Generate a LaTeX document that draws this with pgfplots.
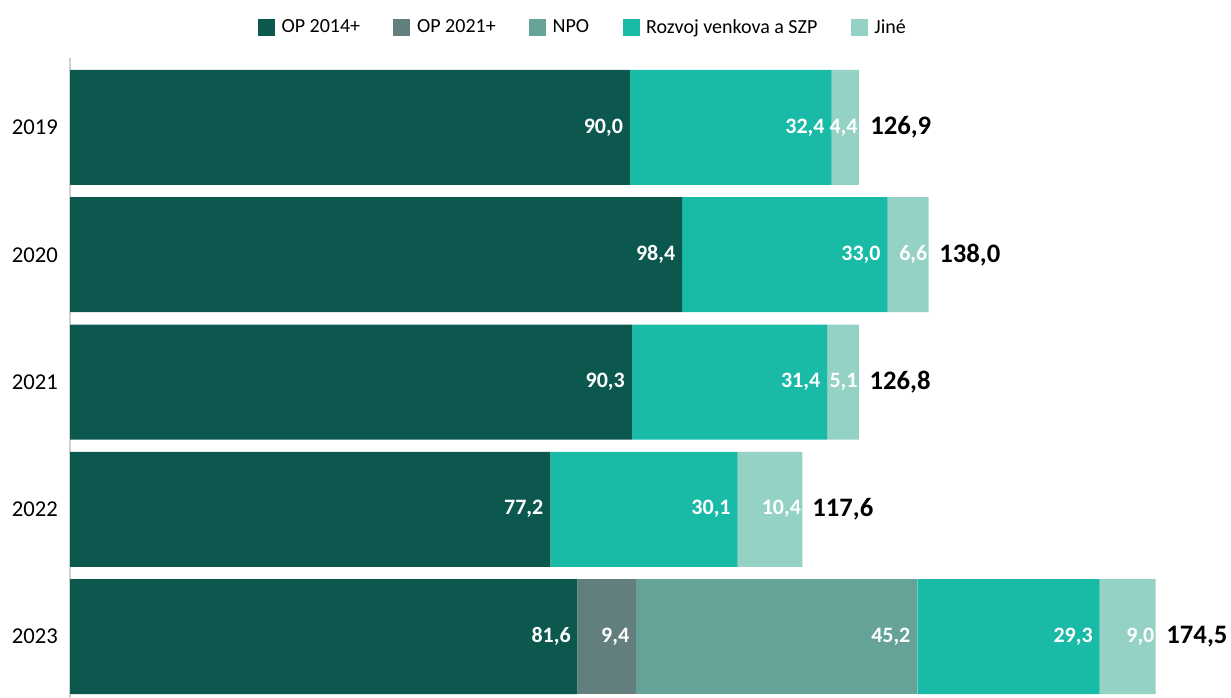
\documentclass[border=0pt]{standalone}
\usepackage{pgfplots}
\pgfplotsset{compat=1.18}
\usepackage{pgfplotstable}
\usepackage{fontspec}
\setmainfont{Carlito}
\definecolor{cA}{HTML}{0C584F}
\definecolor{cB}{HTML}{637F7D}
\definecolor{cC}{HTML}{65A398}
\definecolor{cD}{HTML}{19BBA6}
\definecolor{cE}{HTML}{93D2C5}

\pgfplotstableread{
y op14 l14 op21 l21 npo lnpo rv lrv jn ljn tot ltot
0 90.0 90,0 0   {}  0    {}   32.4 32,4 4.4  4,4  126.9 126,9
1 98.4 98,4 0   {}  0    {}   33.0 33,0 6.6  6,6  138.0 138,0
2 90.3 90,3 0   {}  0    {}   31.4 31,4 5.1  5,1  126.8 126,8
3 77.2 77,2 0   {}  0    {}   30.1 30,1 10.4 10,4 117.6 117,6
4 81.6 81,6 9.4 9,4 45.2 45,2 29.3 29,3 9.0  9,0  174.5 174,5
}\data

\pgfplotsset{
  geom/.style={
    at={(0pt,0pt)}, anchor=south west,
    scale only axis,
    width=870.75pt, height=480pt,
    bar width=86.25pt,
    xmin=0, xmax=186.6,
    ymin=-0.546, ymax=4.483,
    y dir=reverse,
  },
  seg/.style={visualization depends on={\thisrow{#1}\as\segw},
    every node near coord/.append style={xshift={\segw*2.3332pt-1.75pt}}},
  segj/.style={visualization depends on={\thisrow{#1}\as\segw},
    every node near coord/.append style={xshift={\segw*2.3332pt+2.5pt}}},
}

\begin{document}
\begin{tikzpicture}
\useasboundingbox (-52.5pt,0pt) rectangle (870.75pt,523.5pt);
\begin{axis}[
  geom,
  xbar stacked,
  axis x line=none,
  axis y line*=left,
  axis line style={-, draw=black!18, line width=0.8pt},
  ytick={0,1,2,3,4},
  yticklabels={2019,2020,2021,2022,2023},
  major tick length=0pt,
  yticklabel style={font=\fontsize{17}{20}\selectfont, inner sep=0pt, xshift=-9pt},
  point meta=explicit symbolic,
  nodes near coords,
  every node near coord/.append style={anchor=east, text=white, font=\bfseries\fontsize{16.5}{19}\selectfont},
  legend style={at={(0.442,1.048)}, anchor=center, draw=none, fill=none,
    legend columns=5, font=\fontsize{15}{18}\selectfont,
    /tikz/every odd column/.append style={column sep=3pt},
    /tikz/every even column/.append style={column sep=23pt}},
  legend image code/.code={\fill[#1] (0pt,-6.4pt) rectangle (12.75pt,6.4pt);},
]
\addplot[fill=cA, draw=none, seg=op14] table[x=op14, y=y, meta=l14] {\data};
\addlegendentry{OP 2014+}
\addplot[fill=cB, draw=none, seg=op21] table[x=op21, y=y, meta=l21] {\data};
\addlegendentry{OP 2021+}
\addplot[fill=cC, draw=none, seg=npo] table[x=npo, y=y, meta=lnpo] {\data};
\addlegendentry{NPO}
\addplot[fill=cD, draw=none, seg=rv] table[x=rv, y=y, meta=lrv] {\data};
\addlegendentry{Rozvoj venkova a SZP}
\addplot[fill=cE, draw=none, segj=jn] table[x=jn, y=y, meta=ljn] {\data};
\addlegendentry{Jiné}
\end{axis}
\begin{axis}[
  geom,
  xbar,
  hide axis,
  point meta=explicit symbolic,
  nodes near coords,
  every node near coord/.append style={anchor=west, xshift=4.5pt, text=black, font=\bfseries\fontsize{20}{24}\selectfont},
]
\addplot[fill=none, draw=none] table[x=tot, y=y, meta=ltot] {\data};
\end{axis}
\end{tikzpicture}
\end{document}
